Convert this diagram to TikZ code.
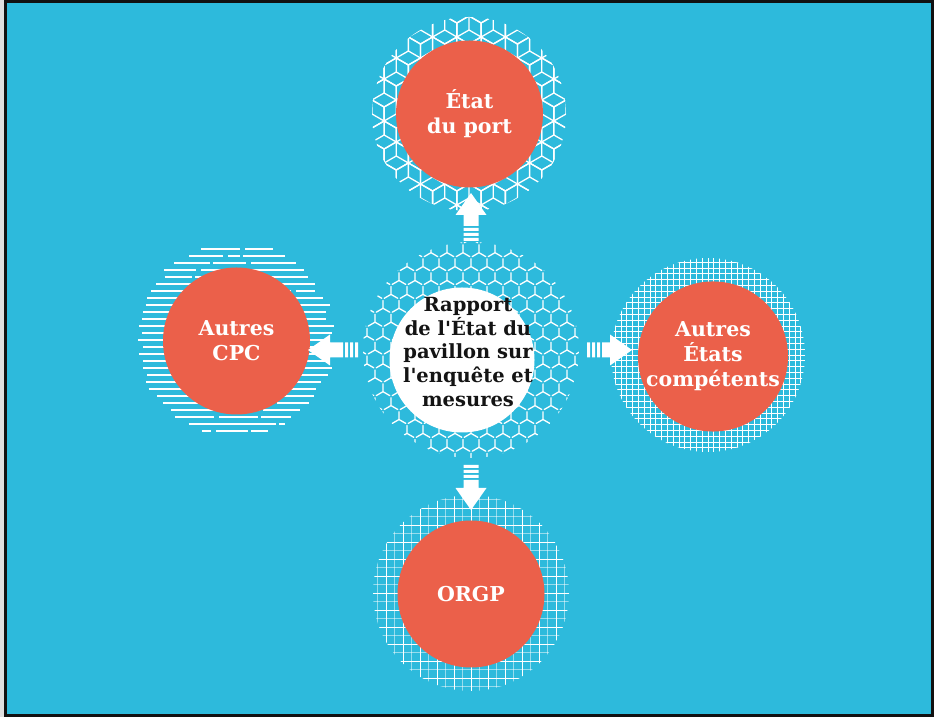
\documentclass[tikz,border=0pt]{standalone}
\usepackage{fontspec}
\setmainfont{DejaVu Serif}
\usetikzlibrary{calc}

\definecolor{sea}{HTML}{2DBADC}
\definecolor{coral}{HTML}{EB604A}
\definecolor{rim}{HTML}{111111}
\definecolor{ink}{HTML}{141414}

\tikzset{
  disc/.style={circle, fill=coral, minimum size=147pt, inner sep=0pt,
    text=white, align=center, font=\bfseries\fontsize{20.5}{25}\selectfont},
  hubtext/.style={inner sep=0pt, text=ink, align=center,
    font=\bfseries\fontsize{19.5}{23.7}\selectfont},
  motif/.style={white, line width=1.3pt, line cap=round, line join=round},
  stripe/.style={white, line width=1.6pt},
  gridline/.style={white, line width=0.9pt},
}

% block arrow with a striped tail: #1 start node, #2 target node,
% #3 distance of the tail from #1, #4 length, #5 direction angle
\newcommand\blockarrow[5]{%
  \coordinate (tail) at ($(#1)!#3!(#2)$);
  \begin{scope}[shift={(tail)}, rotate=#5]
    \fill[white] (0,-7.5) rectangle (3,7.5) (5,-7.5) rectangle (8,7.5)
                 (10,-7.5) rectangle (13,7.5);
    \fill[white] (15,-7.5) -- (#4-22,-7.5) -- (#4-22,-15.5) -- (#4,0)
                 -- (#4-22,15.5) -- (#4-22,7.5) -- (15,7.5) -- cycle;
  \end{scope}}

\begin{document}
\begin{tikzpicture}[x=1pt, y=1pt]
\useasboundingbox (0,0) rectangle (934,717);

% frame and background
\fill[gray!25] (0,0) rectangle (934,717);
\fill[rim] (3.5,0) rectangle (934,717);
\fill[sea] (7,2.5) rectangle (930.5,714);

% centres of the patterned halos
\coordinate (hubc) at (471,367);
\coordinate (topH) at (469,603);
\coordinate (leftH) at (236,377);
\coordinate (rightH) at (708,362);
\coordinate (botH) at (471,124);

% tumbling-block halo (top)
\begin{scope}
  \clip (topH) circle[radius=97];
  \foreach \j in {-5,...,5}{
    \foreach \i in {-5,...,5}{
      \pgfmathsetmacro\cx{469 + 24.25*\i + mod(abs(\j),2)*12.12}
      \pgfmathsetmacro\cy{603 + 21*\j}
      \draw[motif] (\cx,\cy) +(90:14) -- +(150:14) -- +(210:14) -- +(270:14)
        -- +(330:14) -- +(30:14) -- cycle;
      \draw[motif] (\cx,\cy) -- +(90:14) (\cx,\cy) -- +(210:14)
        (\cx,\cy) -- +(330:14);
    }}
\end{scope}

% interlocking Y halo (centre)
\begin{scope}
  \clip (hubc) circle[radius=108];
  \foreach \j in {-8,...,8}{
    \foreach \i in {-8,...,8}{
      \pgfmathsetmacro\cx{471 + 16*\i + mod(abs(\j),2)*8}
      \pgfmathsetmacro\cy{367 + 13.9*\j}
      \draw[motif] (\cx,\cy) -- +(90:7.8) (\cx,\cy) -- +(210:7.8)
        (\cx,\cy) -- +(330:7.8);
    }}
\end{scope}

% brushed stripes halo (left)
\pgfmathsetseed{7}
\foreach \k in {-13,...,13}{
  \pgfmathsetmacro\hl{sqrt(max(9409-(7*\k)^2,0))}
  \pgfmathsetmacro\xa{236-\hl+5*rand}
  \pgfmathsetmacro\xb{236+\hl-5*rand}
  \pgfmathsetmacro\ga{236+55*rand}
  \pgfmathsetmacro\gb{236+55*rand}
  \pgfmathsetmacro\yy{377+7*\k}
  \draw[stripe] (\xa,\yy) -- (\xb,\yy);
  \draw[sea, line width=2pt] (\ga,\yy) -- ++(3,0) (\gb,\yy) -- ++(5,0);
}

% fine grid halo (right)
\begin{scope}
  \clip (rightH) circle[radius=97];
  \foreach \k in {-17,...,17}{
    \draw[gridline] (708+5.8*\k,260) -- (708+5.8*\k,464);
    \draw[gridline] (606,362+5.8*\k) -- (810,362+5.8*\k);
  }
\end{scope}

% coarse grid halo (bottom)
\begin{scope}
  \clip (botH) circle[radius=98];
  \foreach \k in {-12,...,12}{
    \pgfmathsetmacro\op{ifthenelse(mod(abs(\k),2)==1,0.5,1)}
    \draw[gridline, opacity=\op] (471+8.5*\k,20) -- (471+8.5*\k,230);
    \draw[gridline, opacity=\op] (365,124+8.5*\k) -- (577,124+8.5*\k);
  }
\end{scope}

% discs
\node[disc] (top) at (469.5,603) {État\\du port};
\node[disc] (left) at (236.5,376) {Autres\\CPC};
\node[disc] (right) at (713,360.5) {Autres\\États\\compétents};
\node[disc] (bottom) at (471,123) {ORGP};
\fill[white] (462,357) circle[radius=72.5];
\node[hubtext] (hub) at (468,365)
  {Rapport\\de l\textquotesingle État du\\pavillon sur\\l\textquotesingle enquête et\\mesures};

% arrows from the centre to each disc
\blockarrow{hubc}{hubc |- top}{109pt}{48}{90}
\blockarrow{hubc}{hubc -| left}{113pt}{50}{180}
\blockarrow{hubc}{hubc -| right}{116pt}{45}{0}
\blockarrow{hubc}{hubc |- bottom}{115pt}{45}{-90}

\end{tikzpicture}
\end{document}
